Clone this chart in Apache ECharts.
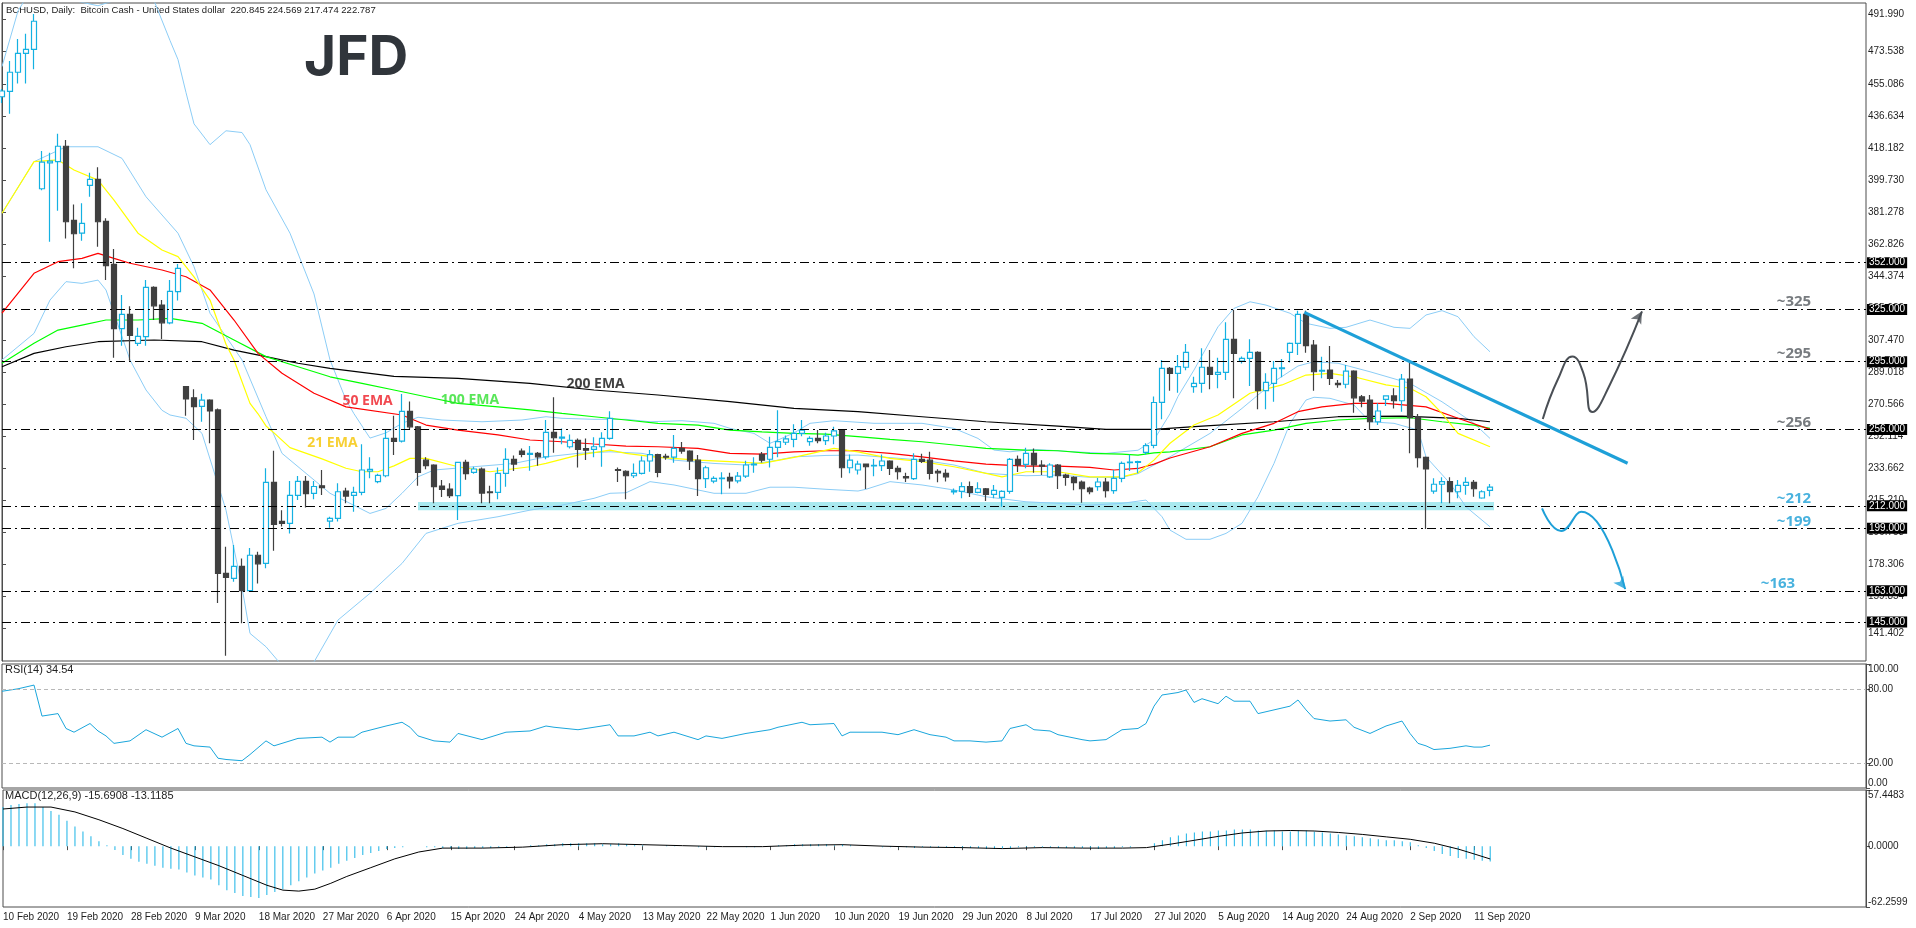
<!DOCTYPE html>
<html>
<head>
<meta charset="utf-8">
<title>BCHUSD Daily</title>
<script src="https://cdn.jsdelivr.net/npm/echarts@6/dist/echarts.min.js"></script>
<style>
  html, body { margin: 0; padding: 0; background: #fff; }
  #chart { width: 1916px; height: 928px; }
</style>
</head>
<body>
<div id="chart"></div>
<script>
// ---- data ----
var tickLabels = ['10 Feb 2020', '19 Feb 2020', '28 Feb 2020', '9 Mar 2020', '18 Mar 2020', '27 Mar 2020',
  '6 Apr 2020', '15 Apr 2020', '24 Apr 2020', '4 May 2020', '13 May 2020', '22 May 2020', '1 Jun 2020',
  '10 Jun 2020', '19 Jun 2020', '29 Jun 2020', '8 Jul 2020', '17 Jul 2020', '27 Jul 2020', '5 Aug 2020',
  '14 Aug 2020', '24 Aug 2020', '2 Sep 2020', '11 Sep 2020'];
var barsPerLabel = 8;
var slots = 234; // bars + empty room on the right

// open, high, low, close
var ohlc = [
  [447.6, 452, 444, 450.9], [450.7, 468.2, 437.8, 461.7], [461.7, 480.9, 455.3, 472.6], [472.6, 483.9, 455.3, 474.9],
  [474.9, 495.3, 463.4, 491.1], [394.6, 416.3, 393.7, 410.0], [409.5, 415.4, 364.1, 410.5], [410.2, 426.3, 382, 419.1],
  [419.1, 422.7, 366, 375.6], [376.4, 385.6, 348.8, 368.7], [369, 386.2, 364.7, 374.7], [396.6, 403.8, 390, 400],
  [400, 407, 361.2, 375.6], [375.8, 377.6, 342, 350.3], [351.1, 359.9, 297.3, 314], [314, 333.4, 304.2, 322.3],
  [322.3, 327, 295.6, 310.2], [305.6, 314.6, 304, 309.6], [309.4, 342, 304.2, 337.8], [337.8, 338.5, 319, 327.2],
  [327.6, 330.5, 308, 317.4], [317.4, 342, 316.5, 335.5], [335.3, 351.3, 330.3, 348.8], [280.6, 281, 263.9, 273.5],
  [274.2, 279.1, 249.9, 269.1], [269.3, 276.5, 260.4, 272.9], [272.9, 273.4, 248, 266.6], [267.2, 268.1, 156, 173.1],
  [173.1, 188.4, 125.6, 170.8], [170.2, 189.4, 168.2, 177.1], [177.1, 181.7, 144.3, 163.1], [163.1, 187.7, 162.5, 183.5],
  [183.5, 185.5, 167.3, 178.6], [178.8, 233.6, 176, 225.5], [225.5, 243.7, 186.1, 201.3], [203, 209.5, 200, 201.9],
  [201.9, 226.3, 196, 218], [218, 229.1, 215.3, 226.1], [226.1, 229.1, 211, 219], [219.2, 226.3, 215.7, 223.1],
  [223.5, 232.6, 218.2, 222.5], [203.2, 205.7, 199.4, 204.8], [204.8, 225, 202.9, 220.1], [220.5, 222.4, 213.4, 217.6],
  [218, 223, 208.6, 219.7], [219.7, 247.4, 218, 232.6], [232, 240, 227.8, 233], [225.9, 230.5, 225, 229.5],
  [229.3, 255.6, 228.4, 250.8], [250.8, 263.9, 241.2, 249.1], [249.3, 276.4, 248.5, 266.4], [266.4, 272, 256, 257.5],
  [257.5, 258, 223.5, 231.3], [238.3, 240, 233, 235.1], [235.5, 235.9, 213.4, 223], [223.4, 226.8, 217, 221.5],
  [221.6, 225, 216.5, 217.8], [217.8, 237.4, 203.8, 237], [237, 238.5, 227, 230.5], [231.3, 234.5, 230.5, 233.2],
  [233.2, 234, 213.4, 219.3], [220, 223.5, 213.4, 219.5], [219.7, 234.1, 215.7, 230.7], [230.7, 245.1, 223, 238.7],
  [238.7, 241, 232, 236], [243.5, 245, 240, 241.6], [241.6, 246.4, 232.2, 242.2], [242.2, 243, 235, 240.2],
  [240.2, 261.4, 238.8, 254.3], [254.3, 274.5, 242.6, 251.2], [251, 256.5, 247.5, 251.5], [246, 253, 245, 249.7],
  [249.7, 250.8, 234, 244.5], [245, 250.8, 238.4, 244], [244.5, 251.5, 240, 246], [246, 254.3, 234.5, 250.8],
  [250.8, 266.4, 250, 262.4], [232.8, 234.1, 225.7, 232.4], [231.9, 232.4, 215.7, 229.3], [229.3, 236.4, 228, 230.7],
  [230.7, 240.6, 230, 237.8], [237.8, 244.1, 231.6, 241.5], [241.5, 242, 228.5, 231.3], [240.5, 242, 238.5, 240],
  [240, 252.8, 236.8, 245.1], [245.1, 248.7, 242, 243.5], [243.5, 244, 232.6, 237.9], [238.3, 241.2, 217.6, 227.6],
  [227.6, 235, 222.3, 233.9], [226.2, 229, 225, 227.8], [227.6, 231.3, 218.6, 228], [228.4, 231, 222, 226.4],
  [226.4, 231.5, 225, 229.1], [229.1, 238, 228, 235.5], [235.5, 240, 231, 236], [241.6, 243, 237, 238.3],
  [238.8, 251.8, 234, 245.7], [245.7, 267.1, 239.9, 248.9], [248.6, 252.5, 247, 250.5], [250.3, 259, 245.7, 253.7],
  [253.7, 261.4, 252, 255.6], [248.9, 252, 246.6, 250.8], [250.8, 255.6, 248, 249.5], [249.5, 254, 247, 252.2],
  [252.2, 257.5, 247.5, 255.2], [255.6, 256, 228.2, 233.9], [233.9, 241.6, 230.7, 238.3], [232.6, 238, 230, 236],
  [236, 236.4, 221.6, 234.5], [235, 239, 229, 235.3], [235.1, 241.6, 232, 237.8], [237.8, 238.2, 229.7, 233.6],
  [233.6, 235, 227.2, 231.6], [228.8, 231, 225.7, 228], [227.6, 242.2, 226.8, 238.7], [238.7, 242, 236.6, 237.6],
  [238.3, 243.1, 227.2, 230.7], [231.8, 233, 225.5, 231], [230.7, 233, 226, 228.7], [220, 222, 218.5, 220.6],
  [220.3, 225.5, 216.3, 223], [223, 226, 217, 219.7], [219.7, 225.5, 219.2, 221.8], [221.8, 222.2, 214.8, 218.6],
  [218.6, 224, 216.3, 220.9], [216.9, 221, 211.4, 220.3], [220.3, 239.5, 219, 238.7], [238.7, 241, 231.5, 235.5],
  [235.9, 245.4, 233.6, 242.2], [242.2, 245, 231, 235.5], [235.5, 238.3, 229.7, 234.8], [228.7, 236.5, 228, 235.5],
  [235.5, 236, 221.6, 229.3], [229.7, 230.5, 223.5, 228.4], [228.4, 229, 221, 225.3], [225.7, 226.5, 213.8, 221.8],
  [222.2, 223, 218.6, 220.1], [223, 228, 220.7, 225.7], [225.7, 228, 216.8, 220.7], [220.7, 232.6, 219, 227.8],
  [227.8, 237.5, 225.5, 236.4], [236.8, 241.5, 232, 237.2], [237, 238, 230.7, 237.4], [242.8, 248, 241.6, 246.7],
  [246.8, 275, 245.1, 271.5], [271.6, 296, 261.8, 291.2], [291.2, 292, 278.3, 288.3], [288.3, 298.8, 277.1, 292.1],
  [291.8, 305.2, 290, 300.4], [280.6, 286.3, 277.1, 282.5], [282.5, 302.7, 277.1, 291.8], [291.8, 301.7, 279.1, 287.7],
  [287.7, 297.2, 279.7, 288.8], [288.8, 317.7, 284.4, 307.9], [307.9, 324.8, 273.9, 299.8], [295.4, 298, 294, 296.9],
  [296.9, 307.9, 281, 300.4], [300.4, 301, 267.6, 278.3], [278.3, 288.3, 267.6, 283.1], [282.5, 295.4, 271.9, 291.2],
  [291, 296.6, 286, 291.5], [300.4, 306, 294.6, 305.6], [305.6, 324.4, 298.8, 322.3], [322.3, 324.4, 300.2, 304.2],
  [304.6, 307.5, 278.3, 289.2], [289.6, 297.8, 285.4, 290], [290.2, 304, 281.6, 285.4], [282.5, 284.4, 280, 281.8],
  [282, 293.1, 279.7, 289.6], [289.6, 290, 265.6, 274.2], [274.8, 275.8, 268.8, 272.3], [272.9, 275.8, 255.6, 260.4],
  [260.4, 271, 258.5, 266.6], [273.3, 275.5, 269.5, 275.3], [275.3, 279.7, 268.1, 272.5], [272.5, 287.9, 266.2, 285],
  [285, 294.4, 242.2, 262.7], [263.3, 264.9, 234.1, 239.7], [239.9, 240.4, 198.6, 233.2], [220.5, 227.8, 219, 224.4],
  [224.4, 228.4, 213.4, 225.9], [225.9, 228.4, 213.4, 220.1], [220.1, 226.8, 216.3, 223.8], [223.8, 228.4, 218.4, 225.5],
  [225.5, 226.8, 217.2, 221.8], [216.5, 221, 216, 220.1], [220.845, 224.569, 217.474, 222.787]
];

// moving averages and bands, [bar, price]
var ema21 = [[0, 380.5], [4, 410.2], [7, 411.2], [9, 405.4], [12, 399.6], [14, 388.1], [17, 369], [20, 359.3], [22, 355.5],
  [24, 343.9], [26, 330.5], [28, 305], [29, 296], [31, 271], [32, 265], [33, 258], [34, 254], [36, 245.5], [40, 239],
  [43, 233.6], [45, 231.6], [47, 231.6], [49, 235], [51, 239.3], [53, 239.3], [57, 234.5], [61, 231.6], [66, 234.5],
  [68, 236.4], [72, 241.2], [76, 244.1], [78, 242.2], [82, 239.9], [87, 238.3], [91, 237.4], [95, 236.4], [99, 239.9],
  [104, 245.1], [107, 243.1], [111, 239.3], [115, 237.4], [119, 234.5], [123, 230.7], [125, 228.7], [128, 231.6],
  [132, 231.6], [136, 228.7], [140, 228.7], [142, 231], [144, 238.3], [146, 248], [149, 258.5], [152, 264.3],
  [156, 276.8], [160, 281.6], [163, 287.3], [166, 288.3], [169, 286.3], [173, 281.6], [176, 279.7], [178, 274.8],
  [180, 265.2], [182, 253.7], [186, 246]];
var ema50 = [[0, 322.9], [4, 345.9], [7, 352.6], [10, 354.5], [12, 357.4], [14, 354.5], [16, 351.7], [20, 347.8],
  [23, 343.9], [26, 336.3], [29, 319], [32, 299.8], [35, 288.3], [39, 276.8], [43, 269], [50, 264.3], [53, 258.5],
  [57, 255.6], [62, 252.8], [66, 249.9], [70, 248.9], [74, 247.6], [78, 246.4], [82, 246], [87, 245.1], [91, 242.2],
  [95, 241.8], [99, 243.1], [103, 243.7], [107, 243.7], [111, 242.2], [115, 240.2], [119, 237.9], [123, 236],
  [128, 234.9], [132, 234.9], [136, 234.1], [139, 232.6], [142, 233.5], [144, 236], [146, 239.5], [151, 246],
  [155, 253.7], [159, 259.5], [162, 266.2], [165, 269], [169, 271], [173, 271], [178, 269], [182, 262.4], [186, 256]];
var ema100 = [[0, 294.1], [4, 305.6], [7, 313.2], [10, 316.1], [13, 319], [17, 319], [21, 320], [25, 317.1], [29, 307.5],
  [33, 297.9], [37, 292.1], [41, 286.3], [45, 282.5], [49, 278.7], [53, 274.8], [57, 271], [62, 269], [66, 267.2],
  [70, 265.2], [74, 263.3], [78, 261.4], [82, 259.5], [87, 258.5], [91, 255.6], [95, 254.6], [99, 253.7], [103, 253.3],
  [107, 251.8], [111, 250.3], [115, 248.9], [119, 247], [123, 245.1], [128, 244.1], [132, 243.7], [136, 242.2],
  [140, 241.8], [142, 241.2], [144, 242.5], [146, 243.1], [151, 246], [155, 252.8], [159, 255.6], [163, 259.5],
  [167, 261.4], [171, 262.4], [176, 262.7], [180, 260.4], [184, 258.5], [186, 256.6]];
var ema200 = [[0, 292.1], [4, 299.8], [8, 303.6], [12, 306.5], [19, 307.5], [25, 306.5], [29, 301.7], [33, 297.9],
  [37, 294.1], [41, 291.2], [49, 286.5], [57, 285.4], [66, 282.5], [74, 278.7], [82, 275.8], [91, 272], [99, 268.1],
  [107, 266.2], [115, 263.3], [123, 260.4], [132, 257.9], [138, 256], [144, 256], [150, 257.9], [159, 260.4],
  [167, 263.3], [175, 263.7], [182, 262.4], [186, 260.4]];
var bbUpper = [[0, 465], [2, 497], [4, 512], [6, 505], [9, 503], [12, 500], [16, 506], [19, 503], [21, 480], [22, 469],
  [23, 450], [24, 432], [26, 420], [28, 428], [30, 427], [31, 420], [33, 394], [36, 369], [39, 334], [41, 296], [43, 273],
  [44, 265], [46, 251], [48, 254], [50, 259.5], [52, 263], [55, 261.4], [60, 260.4], [65, 261.4], [68, 263.3], [70, 262.4],
  [74, 261.8], [78, 261.8], [81, 260.4], [85, 261], [89, 259.5], [91, 256.6], [94, 253.7], [96, 248], [97, 249.9],
  [99, 254], [101, 259.5], [104, 261], [109, 259.5], [115, 259.5], [119, 256.6], [122, 250.8], [124, 244.1], [126, 243.1],
  [129, 244.5], [132, 243.7], [134, 243.1], [138, 242.2], [142, 244], [144, 250], [146, 265], [147, 275], [149, 290.2],
  [152, 315.1], [154, 325.7], [156, 329.5], [158, 327.6], [161, 322.9], [163, 317.1], [166, 314.2], [168, 314.8],
  [171, 319], [174, 314.8], [176, 314.2], [178, 321.9], [180, 324.4], [182, 320.9], [184, 309.4], [186, 300.7]];
var bbMiddle = [[0, 380.5], [4, 410.2], [8, 418.8], [12, 418.8], [15, 412.1], [18, 390], [22, 369], [24, 349.7],
  [26, 322.9], [30, 296], [33, 263.3], [35, 242.2], [41, 219.2], [46, 207.6], [48, 210.5], [50, 219.2], [52, 228.7],
  [54, 232.6], [59, 234.5], [64, 236.4], [68, 240.2], [72, 242.2], [76, 243.1], [80, 242.2], [84, 238.3], [89, 236.4],
  [93, 235.5], [97, 238.3], [99, 240.2], [103, 241], [107, 241.2], [115, 238.3], [119, 235.5], [123, 230.7],
  [128, 229.3], [132, 229.7], [136, 228.4], [140, 228.4], [142, 230.5], [144, 235.5], [146, 240.2], [151, 253.7],
  [155, 268.1], [159, 283.5], [162, 292.5], [164, 295], [167, 294.1], [171, 289.2], [176, 282.5], [180, 271.9],
  [184, 259.5], [186, 250.8]];
var bbLower = [[0, 296], [4, 311.3], [6, 330.5], [8, 341.1], [10, 340.1], [12, 342], [13, 336.3], [16, 296], [18, 278.7],
  [20, 267], [21, 264.3], [23, 262.4], [25, 253.7], [28, 209.5], [30, 165], [31, 138.5], [33, 130.8], [35, 120],
  [39, 122], [42, 146.2], [46, 161.6], [50, 178.8], [53, 196.1], [57, 201.9], [62, 205.7], [66, 209.5], [70, 212.4],
  [74, 216.3], [76, 219.2], [78, 219.5], [81, 225.9], [84, 224], [89, 219.2], [93, 219.2], [96, 222.7], [99, 222.7],
  [103, 221.5], [107, 220.5], [108, 221.5], [111, 225.9], [115, 224], [119, 221.1], [123, 217.2], [128, 214.3],
  [132, 213.4], [136, 212.4], [140, 213.4], [143, 215.3], [145, 205.7], [146, 198], [148, 192.7], [151, 192.7],
  [153, 196.1], [155, 201.9], [157, 217.2], [159, 236.4], [161, 259.5], [163, 272.9], [164, 274.5], [166, 273.9],
  [169, 270], [171, 260.4], [174, 259.5], [177, 255.6], [178, 240.2], [181, 224.9], [183, 211.4], [186, 199.9]];

// RSI(14), [bar, value]
var rsi = [[0, 78], [2, 80], [4, 83], [5, 58], [7, 60], [8, 48], [9, 45], [11, 52], [12, 46], [13, 42], [14, 36], [16, 38],
  [18, 47], [20, 41], [22, 48], [23, 36], [24, 34], [26, 33], [27, 24], [28, 23], [30, 22], [31, 27], [33, 38], [34, 34],
  [36, 38], [37, 40], [40, 41], [41, 37], [42, 41], [44, 41], [45, 45], [48, 50], [50, 53], [51, 49], [52, 42], [54, 38],
  [56, 37], [57, 44], [60, 39], [62, 43], [63, 45], [66, 46], [68, 50], [69, 49], [72, 47], [76, 51], [77, 42], [79, 42],
  [81, 45], [82, 42], [84, 45], [87, 39], [88, 42], [90, 40], [93, 44], [96, 47], [97, 49], [100, 53], [101, 51],
  [104, 52], [105, 42], [106, 45], [110, 45], [112, 43], [114, 47], [116, 43], [118, 41], [119, 38], [121, 38],
  [123, 37], [125, 38], [126, 48], [128, 51], [129, 47], [131, 46], [132, 43], [135, 39], [136, 38], [138, 39],
  [140, 47], [142, 48], [143, 52], [144, 66], [145, 75], [147, 77], [148, 79], [149, 69], [150, 72], [152, 68],
  [153, 74], [154, 70], [156, 70], [157, 60], [159, 63], [161, 66], [162, 71], [163, 63], [164, 56], [166, 54],
  [168, 55], [169, 49], [171, 44], [172, 47], [173, 50], [175, 54], [176, 44], [177, 36], [178, 34], [179, 31],
  [181, 32], [183, 34], [184, 33], [185, 33], [186, 34.54]];
var rsiLevels = [20, 80];

// MACD(12,26,9): main as bars, one per candle; signal as [bar, value]
var macdMain = [40, 42, 43, 44, 44, 40, 36, 32, 26, 20,
  15, 10, 5, 1, -4, -9, -13, -16, -18, -20,
  -22, -23, -24, -27, -30, -32, -34, -40, -45, -48,
  -51, -52, -53, -50, -47, -44, -40, -36, -32, -28,
  -25, -22, -18, -15, -12, -9, -7, -5, -3, -2,
  -1, 0, 0, -1, -1, -2, -2, -3, -3, -2,
  -2, -2, -1, -1, 0, 0, 1, 1, 2, 2,
  3, 3, 3, 3, 3, 2, 2, 3, 2, 1,
  1, 0, 0, 1, 1, 0, 0, -1, -1, -1,
  0, 0, 0, -1, -1, 0, 0, 1, 1, 2,
  2, 2, 2, 2, 1, 2, 1, 0, 0, 0,
  -1, -1, -1, -1, -2, -1, -1, -1, -1, -2,
  -2, -2, -2, -3, -3, -2, -2, -1, -1, -1,
  -1, -1, -2, -2, -2, -2, -2, -3, -2, -2,
  -1, -1, 0, 0, 3, 6, 9, 11, 13, 14,
  15, 15, 16, 16, 17, 17, 17, 16, 16, 16,
  15, 15, 16, 16, 15, 14, 13, 12, 11, 10,
  9, 8, 7, 6, 6, 5, 4, 1, -2, -5,
  -8, -10, -12, -13, -14, -15, -15.69];
var macdSignal = [[0, 38], [3, 40], [6, 40], [9, 35], [12, 27], [15, 18], [18, 8], [21, -2], [24, -11], [27, -20],
  [30, -30], [33, -40], [35, -45], [37, -46], [39, -44], [41, -38], [43, -31], [46, -22], [49, -13], [52, -6],
  [55, -2], [60, -2], [65, -1], [70, 1.5], [75, 2.5], [80, 1.5], [85, 0.5], [90, -0.5], [95, -0.5], [100, 1],
  [105, 1.5], [110, 0], [115, -1], [120, -1.5], [125, -2.5], [130, -1.5], [135, -2], [140, -2], [143, -1.5],
  [146, 2], [149, 6], [152, 10], [155, 13.5], [158, 15.5], [161, 16], [164, 15.5], [167, 14], [170, 12],
  [173, 9.5], [176, 7], [179, 3], [182, -3], [184, -8], [186, -13.12]];

// axis ticks and drawn levels
var priceTicks = [491.990, 473.538, 455.086, 436.634, 418.182, 399.730, 381.278, 362.826, 344.374, 325.922,
  307.470, 289.018, 270.566, 252.114, 233.662, 215.210, 196.758, 178.306, 159.854, 141.402];
var levels = [352, 325, 295, 256, 212, 199, 163, 145];
var supportZone = [[52, 209.5], [186.5, 214.2]];
var trendLine = [[162.8, 323.4], [203.2, 236.5]];
var upPath = [[192.6, 262], [194.5, 285], [196.3, 298], [197.7, 288], [198.8, 266], [200.8, 280], [205, 324]];
var downPath = [[192.5, 210.5], [194.9, 197.5], [197.4, 208.5], [202.9, 164]];
var levelNotes = [['~325', 224, 329.4, 'gray'], ['~295', 224, 299.4, 'gray'], ['~256', 224, 259.7, 'gray'],
  ['~212', 224, 215.9, 'blue'], ['~199', 224, 202.6, 'blue'], ['~163', 222, 166.9, 'blue']];
var emaNotes = [['21 EMA', 41.3, 248.3, '#f5c400'], ['50 EMA', 45.7, 272.6, '#ee1c24'],
  ['100 EMA', 58.5, 273, '#2fe02f'], ['200 EMA', 74.2, 282, '#111111']];

// ---- chart ----
var chartDom = document.getElementById('chart');
var myChart = echarts.init(chartDom);

var frame = '#4d4d4d';
var cyan = '#14b1e2';
var bandColor = '#8ccdf6';
var textColor = '#1e1e1e';
var font = 'Liberation Sans';

var categories = [];
for (var i = 0; i < slots; i++) categories.push(String(i));

var candleData = ohlc.map(function (r) { return [r[0], r[3], r[2], r[1]]; });
var macdBars = macdMain.map(function (v, i) { return [i, v]; });

function isLabelSlot(index) {
  return index % barsPerLabel === 0 && index / barsPerLabel < tickLabels.length;
}

function catAxis(grid, showLabels) {
  return {
    type: 'category', gridIndex: grid, data: categories, boundaryGap: false,
    axisLine: { show: false },
    axisTick: { show: showLabels, interval: isLabelSlot, length: 4, lineStyle: { color: frame } },
    axisLabel: {
      show: showLabels, interval: isLabelSlot, align: 'left', margin: 5,
      color: textColor, fontFamily: font, fontSize: 10,
      formatter: function (v, idx) { return tickLabels[idx / barsPerLabel]; }
    },
    splitLine: { show: false }
  };
}

function valAxis(grid, min, max, ticks, digits) {
  return {
    type: 'value', gridIndex: grid, position: 'right', min: min, max: max,
    axisLine: { show: true, lineStyle: { color: frame } },
    axisTick: { show: true, customValues: ticks, length: 4, lineStyle: { color: frame } },
    axisLabel: {
      customValues: ticks, margin: 2, color: textColor, fontFamily: font, fontSize: 10,
      verticalAlignMinLabel: 'bottom', verticalAlignMaxLabel: 'top',
      formatter: function (v) { return v.toFixed(digits); }
    },
    splitLine: { show: false }
  };
}

function curve(data, color, width, xIdx, yIdx, z) {
  return {
    type: 'line', xAxisIndex: xIdx, yAxisIndex: yIdx, data: data, symbol: 'none',
    lineStyle: { color: color, width: width }, silent: true, z: z || 2
  };
}

var gridBox = { show: true, borderColor: frame, borderWidth: 1, backgroundColor: 'transparent' };

option = {
  animation: false,
  backgroundColor: '#ffffff',
  grid: [
    Object.assign({ left: 2, right: 50, top: 3, height: 658 }, gridBox),
    Object.assign({ left: 2, right: 50, top: 664, height: 124 }, gridBox),
    Object.assign({ left: 2, right: 50, top: 790, height: 117 }, gridBox)
  ],
  xAxis: [
    catAxis(0, false),
    catAxis(1, false),
    catAxis(2, true),
    { type: 'value', gridIndex: 0, min: 0, max: slots - 1, show: false }
  ],
  yAxis: [
    valAxis(0, 122.6, 501.6, priceTicks, 3),
    valAxis(1, 0, 100, [0, 20, 80, 100], 2),
    valAxis(2, -62.2599, 57.4483, [-62.2599, 0, 57.4483], 4)
  ],
  graphic: [
    { type: 'text', left: 6, top: 5, style: { text: 'BCHUSD, Daily:  Bitcoin Cash - United States dollar  220.845 224.569 217.474 222.787', font: '9.5px "Liberation Sans"', fill: '#222' } },
    { type: 'text', left: 304, top: 31, style: { text: 'JFD', font: 'bold 55px Inter', fill: '#30353b' } },
    { type: 'text', left: 5, top: 664, style: { text: 'RSI(14) 34.54', font: '11px "Liberation Sans"', fill: '#222' } },
    { type: 'text', left: 5, top: 790, style: { text: 'MACD(12,26,9) -15.6908 -13.1185', font: '11px "Liberation Sans"', fill: '#222' } }
  ],
  series: [
    // support zone underneath everything
    {
      type: 'line', xAxisIndex: 3, yAxisIndex: 0, data: [], z: 1, silent: true,
      markArea: {
        silent: true, itemStyle: { color: '#a9e9ef' },
        data: [[{ coord: supportZone[0] }, { coord: supportZone[1] }]]
      }
    },
    curve(bbUpper, bandColor, 1, 0, 0),
    curve(bbMiddle, bandColor, 1, 0, 0),
    curve(bbLower, bandColor, 1, 0, 0),
    curve(ema200, '#000000', 1.2, 0, 0),
    curve(ema100, '#00ff00', 1.2, 0, 0),
    curve(ema50, '#ff0000', 1.2, 0, 0),
    curve(ema21, '#ffff00', 1.2, 0, 0),
    {
      type: 'candlestick', xAxisIndex: 0, yAxisIndex: 0, data: candleData, barWidth: 5, z: 4, silent: true,
      itemStyle: { color: '#ffffff', color0: '#404040', borderColor: cyan, borderColor0: '#404040', borderWidth: 1.2 },
      markLine: {
        silent: true, symbol: ['none', 'none'], animation: false,
        lineStyle: { color: '#000', type: [9, 4, 2, 4], width: 1 },
        label: {
          show: true, position: 'end', distance: 1, color: '#fff', backgroundColor: '#000',
          fontFamily: font, fontSize: 10, padding: [1, 2, 0, 2],
          formatter: function (p) { return p.value.toFixed(3); }
        },
        data: levels.map(function (v) { return { yAxis: v }; })
      }
    },
    // drawn annotations
    curve(trendLine, '#1ea0d8', 3.2, 3, 0, 6),
    Object.assign(curve(upPath, '#4a4f55', 2, 3, 0, 6), { smooth: 0.5 }),
    Object.assign(curve(downPath, '#1ea0d8', 2, 3, 0, 6), { smooth: 0.5 }),
    {
      type: 'scatter', xAxisIndex: 3, yAxisIndex: 0, z: 7, silent: true, symbol: 'arrow',
      data: [
        { value: upPath[upPath.length - 1], symbolRotate: -30, itemStyle: { color: '#4a4f55' } },
        { value: downPath[downPath.length - 1], symbolRotate: -145, itemStyle: { color: '#1ea0d8' } }
      ],
      symbolSize: [9, 12]
    },
    {
      type: 'scatter', xAxisIndex: 3, yAxisIndex: 0, z: 7, silent: true, symbolSize: 0,
      data: levelNotes.map(function (n) {
        return { value: [n[1], n[2]], name: n[0], label: { color: n[3] === 'gray' ? '#555a5f' : '#1c9fd6' } };
      }),
      label: { show: true, position: 'inside', formatter: '{b}', fontFamily: 'Open Sans', fontSize: 15, fontWeight: 'bold' }
    },
    {
      type: 'scatter', xAxisIndex: 3, yAxisIndex: 0, z: 7, silent: true, symbolSize: 0,
      data: emaNotes.map(function (n) {
        return { value: [n[1], n[2]], name: n[0], label: { color: n[3] } };
      }),
      label: { show: true, position: 'inside', formatter: '{b}', fontFamily: 'Open Sans', fontSize: 14, fontWeight: 'bold' }
    },
    // RSI
    Object.assign(curve(rsi, '#1aa6dc', 1, 1, 1), {
      markLine: {
        silent: true, symbol: ['none', 'none'], label: { show: false },
        lineStyle: { color: '#b8b8b8', type: [4, 3], width: 1 },
        data: rsiLevels.map(function (v) { return { yAxis: v }; })
      }
    }),
    // MACD
    {
      type: 'bar', xAxisIndex: 2, yAxisIndex: 2, data: macdBars, barWidth: 1, silent: true,
      itemStyle: { color: '#19b3e6' }
    },
    curve(macdSignal, '#000000', 1, 2, 2, 3)
  ]
};

option && myChart.setOption(option);
</script>
</body>
</html>
